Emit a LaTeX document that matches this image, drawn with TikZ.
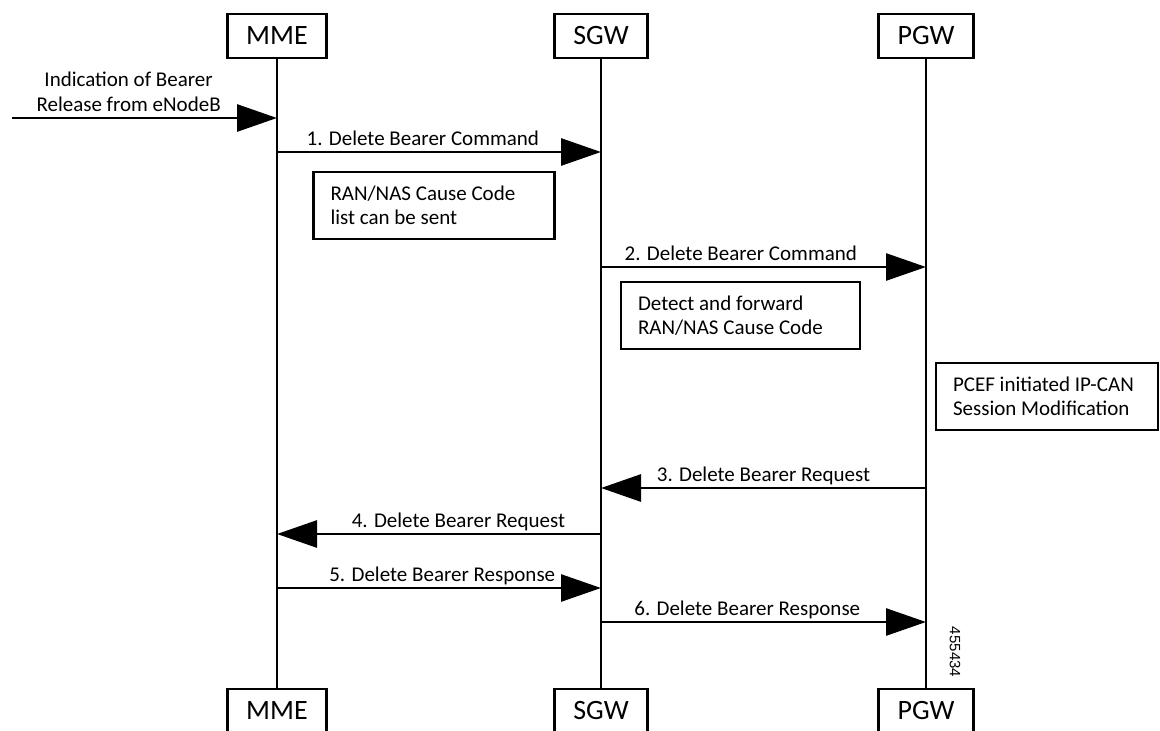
\documentclass[tikz,border=0pt]{standalone}
\usepackage{fontspec}
\setmainfont{Carlito}
\newfontfamily\figfont{Liberation Sans}
\usetikzlibrary{arrows.meta}

\begin{document}
\begin{tikzpicture}[x=1pt, y=-1pt, line width=2.8pt,
        ent/.style={draw, rectangle, minimum height=44pt, inner xsep=19pt, font=\fontsize{28}{30}\selectfont},
        note/.style={draw, rectangle, minimum height=67pt, align=flush left, inner xsep=17pt, font=\fontsize{21}{24.5}\selectfont},
        msg/.style={-{Triangle[length=40pt, width=27pt]}},
        lbl/.style={anchor=base, yshift=7pt, font=\fontsize{21}{24.5}\selectfont}]
        \useasboundingbox (0, 0) rectangle (1160, 731);

        \node (mme) at (277, 36) [ent] {MME};
        \node (sgw) at (601, 36) [ent] {SGW};
        \node (pgw) at (926, 36) [ent] {PGW};

        \node (mme-b) at (277, 711) [ent] {MME};
        \node (sgw-b) at (601, 711) [ent] {SGW};
        \node (pgw-b) at (926, 711) [ent] {PGW};

        \foreach \a in {mme, sgw, pgw}
            {\draw (\a) -- (\a-b);}

        \coordinate (enb) at (12, 118);
        \coordinate (y1) at (0, 152);
        \coordinate (y2) at (0, 267);
        \coordinate (y3) at (0, 488);
        \coordinate (y4) at (0, 534);
        \coordinate (y5) at (0, 588);
        \coordinate (y6) at (0, 622);

        \draw [msg] (enb) -- (mme |- enb)
            node [lbl, pos=0.44, align=center] {Indication of Bearer\\Release from eNodeB};
        \draw [msg] (mme |- y1) -- (sgw |- y1) node [lbl, pos=0.45] {1. Delete Bearer Command};
        \draw [msg] (sgw |- y2) -- (pgw |- y2) node [lbl, pos=0.43] {2. Delete Bearer Command};
        \draw [msg] (pgw |- y3) -- (sgw |- y3) node [lbl, pos=0.5] {3. Delete Bearer Request};
        \draw [msg] (sgw |- y4) -- (mme |- y4) node [lbl, pos=0.44] {4. Delete Bearer Request};
        \draw [msg] (mme |- y5) -- (sgw |- y5) node [lbl, pos=0.51] {5. Delete Bearer Response};
        \draw [msg] (sgw |- y6) -- (pgw |- y6) node [lbl, pos=0.45] {6. Delete Bearer Response};

        \node (cause) at (434, 205.5) [note, text width=207pt] {RAN/NAS Cause Code\\list can be sent};
        \node (detect) at (740.5, 315.5) [note, text width=205pt] {Detect and forward\\RAN/NAS Cause Code};
        \node (pcef) at (1047, 396.5) [note, text width=188pt] {PCEF initiated IP-CAN\\Session Modification};

        \node (figno) at (955, 652) [rotate=-90, font=\figfont\fontsize{15}{15}\selectfont] {455434};
    \end{tikzpicture}
\end{document}
